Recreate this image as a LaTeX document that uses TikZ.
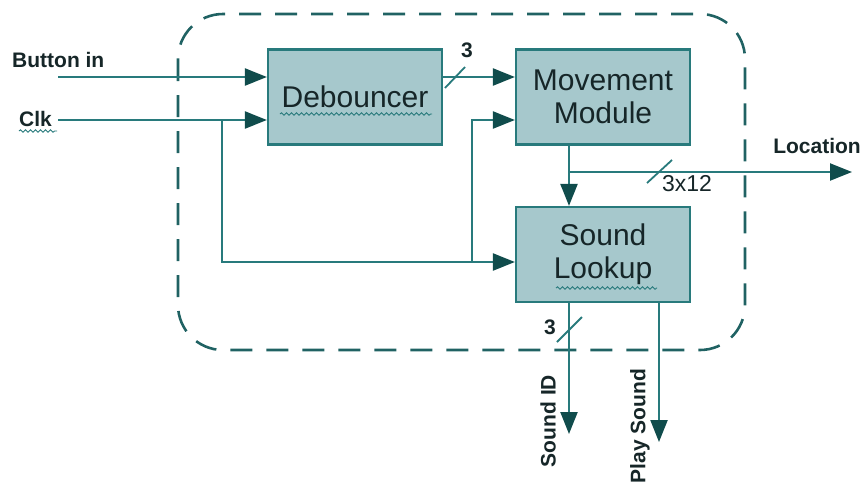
\documentclass[tikz,border=0pt]{standalone}
\usepackage{fontspec}
\setmainfont{Liberation Sans}
\usetikzlibrary{arrows.meta,decorations.pathmorphing}
\definecolor{boxfill}{RGB}{166,200,204}
\definecolor{edge}{RGB}{40,122,124}
\definecolor{tip}{RGB}{16,76,76}
\definecolor{ink}{RGB}{22,38,40}
\begin{document}
\begin{tikzpicture}[x=1pt,y=-1pt,
  blk/.style={draw=edge,line width=2.2pt,fill=boxfill,minimum width=174pt,minimum height=95pt,
    align=center,text=ink,font=\fontsize{30}{33}\selectfont,inner sep=0pt},
  wire/.style={draw=edge,line width=2.2pt},
  arr/.style={wire,-{Triangle[length=22pt,width=17pt,color=tip]}},
  lbl/.style={text=ink,font=\fontsize{21}{24}\selectfont\bfseries,inner sep=0pt},
  small/.style={text=ink,font=\fontsize{23}{25}\selectfont,inner sep=0pt},
  slash/.style={draw=edge,line width=1.8pt},
  wavy/.style={draw=edge,line width=0.9pt,decorate,decoration={snake,amplitude=1.2pt,segment length=5pt}},
  frame/.style={draw=edge!80!black,line width=2.6pt,dash pattern=on 22pt off 14pt,rounded corners=45pt}]
\useasboundingbox (0,0) rectangle (865,488);
\draw[frame] (178,14) rectangle (745,350);
\node[blk] (deb) at (355,97) {Debouncer};
\node[blk] (mov) at (603,97) {Movement\\Module};
\node[blk] (snd) at (603,254.5) {Sound\\Lookup};
% spell-check underlines
\draw[wavy] (280,114) -- (432,114);
\draw[wavy] (556,288) -- (657,288);
\draw[wavy] (19,131) -- (57,131);
% inputs
\node[lbl,anchor=west] (btn) at (12,60) {Button in};
\node[lbl,anchor=west] (clk) at (19,119) {Clk};
\coordinate (bs) at (58,77);
\coordinate (cs) at (58,120);
\draw[arr] (bs) -- (deb.west |- bs);
\draw[arr] (cs) -- (deb.west |- cs);
\coordinate (j1) at (222,120);
\coordinate (j2) at (472,262);
\draw[arr] (j1) |- (snd.west |- j2);
\draw[arr] (j2) |- (mov.west |- cs);
% debouncer to movement
\draw[arr] (deb.east |- bs) -- (mov.west |- bs);
\draw[slash] (445,88) -- (465,67);
\node[lbl] (n3a) at (467,50) {3};
% movement to sound
\coordinate (mb) at (569,145);
\coordinate (j3) at (569,172);
\coordinate (loc) at (852,172);
\draw[arr] (mov.south -| mb) -- (snd.north -| mb);
\draw[arr] (j3) -- (loc);
\draw[slash] (647,183) -- (672,160);
\node[small] (n312) at (687,184) {3x12};
\node[lbl,anchor=east] (loct) at (861,146) {Location};
% outputs
\coordinate (sid) at (569,434);
\coordinate (pls) at (659,442);
\draw[arr] (snd.south -| sid) -- (sid);
\draw[arr] (snd.south -| pls) -- (pls);
\draw[slash] (557,342) -- (582,317);
\node[lbl] (n3b) at (550,327) {3};
\node[lbl,rotate=90] (sidt) at (548,421) {Sound ID};
\node[lbl,rotate=90] (plst) at (640,426) {Play Sound};
\end{tikzpicture}
\end{document}
